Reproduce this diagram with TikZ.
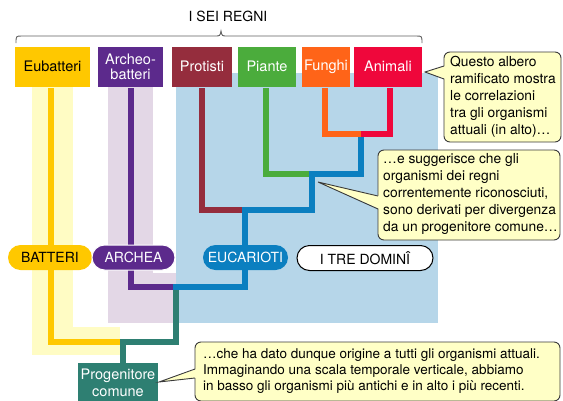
\documentclass[tikz,border=0pt]{standalone}
\usepackage{fontspec}
\setmainfont{TeX Gyre Heros}
\definecolor{cEub}{HTML}{FFC800}
\definecolor{cEubBg}{HTML}{FFFCC4}
\definecolor{cArc}{HTML}{5C2A8C}
\definecolor{cArcBg}{HTML}{E3D7E6}
\definecolor{cPro}{HTML}{952D3D}
\definecolor{cPia}{HTML}{4BAC3C}
\definecolor{cFun}{HTML}{FF6418}
\definecolor{cAni}{HTML}{EF073B}
\definecolor{cEuc}{HTML}{0B7FC0}
\definecolor{cEucBg}{HTML}{B6D6E9}
\definecolor{cTeal}{HTML}{2E7F72}
\definecolor{cBub}{HTML}{FFFFC6}
\definecolor{cBorder}{HTML}{3A3A3A}
\begin{document}
\begin{tikzpicture}[x=1pt,y=-1pt,
  topbox/.style={inner sep=0pt,minimum height=40pt,text=white,align=center,
    font=\fontsize{14.5}{15}\selectfont},
  tree/.style={line width=6pt,line join=miter,line cap=butt},
  pill/.style={inner sep=0pt,minimum height=25pt,rounded corners=12.5pt,
    font=\fontsize{14}{15}\selectfont},
  bubble/.style={fill=cBub,draw=cBorder,line width=0.9pt,rounded corners=6pt},
  bubtext/.style={inner sep=0pt,anchor=north west,align=left,
    font=\fontsize{13.8}{17}\selectfont},
  bracestyle/.style={draw=cBorder!80,line width=0.9pt}]
\useasboundingbox (0,0) rectangle (563,400);
% background bands
\fill[cEubBg] (32,87) rectangle (73,355);
\fill[cEubBg] (32,327) rectangle (120,355);
\fill[cArcBg] (108,87) rectangle (153,323);
\fill[cArcBg] (108,273) rectangle (180,323);
\fill[cEucBg] (176,73) rectangle (438,323);
% brace and title
\draw[bracestyle] (16,43) .. controls (16,36) .. (22,36) -- (215,36)
  .. controls (220,36) .. (221,31) .. controls (222,36) .. (227,36)
  -- (416,36) .. controls (422,36) .. (422,43);
\node[font=\fontsize{14}{15}\selectfont,inner sep=0pt] (title) at (228,16) {I SEI REGNI};
% kingdoms
\node[topbox,fill=cEub,text=black,minimum width=75pt] (eub) at (52.5,66.5) {Eubatteri};
\node[topbox,fill=cArc,minimum width=65pt] (arc) at (130.5,66.5) {Archeo-\\batteri};
\node[topbox,fill=cPro,minimum width=60pt] (pro) at (202,66.5) {Protisti};
\node[topbox,fill=cPia,minimum width=58pt] (pia) at (267,66.5) {Piante};
\node[topbox,fill=cFun,minimum width=48pt] (fun) at (326,66.5) {Funghi};
\node[topbox,fill=cAni,minimum width=68pt] (ani) at (388,66.5) {Animali};
% tree
\draw[tree,cEuc] (361,134) |- (312,174) -- (312,209.5) -- (245,209.5) -- (245,287) -- (173,287);
\draw[tree,cFun] (325,88) |- (361,133.5);
\draw[tree,cAni] (390,88) |- (361,133.5);
\draw[tree,cPia] (266,88) |- (309,174);
\draw[tree,cPro] (202,88) |- (242,209.5);
\draw[tree,cArc] (131,88) |- (173,287);
\draw[tree,cEub] (51,88) |- (120,342);
\draw[tree,cTeal] (176,290) |- (123,342) -- (123,363);
% domains
\node[pill,fill=cEub,minimum width=84pt] (bat) at (50,257.5) {BATTERI};
\node[pill,fill=cArc,text=white,draw=white,line width=1pt,minimum width=83pt] (arch) at (133.5,257.5) {ARCHEA};
\node[pill,fill=cEuc,text=white,minimum width=85pt] (euc) at (245.5,257.5) {EUCARIOTI};
\node[pill,fill=white,draw=black,line width=1pt,minimum width=136pt] (dom) at (365,258) {I TRE DOMINÎ};
% common ancestor
\node[fill=cTeal,text=white,inner sep=0pt,minimum width=80pt,minimum height=40pt,align=center,
  font=\fontsize{14.5}{17}\selectfont] (prog) at (118,383) {Progenitore\\comune};
% callouts
\draw[bubble] (444,52) rectangle (561,142);
\fill[cBub] (425,72) -- (445.5,66) -- (445.5,79) -- cycle;
\draw[draw=cBorder,line width=0.9pt,line join=miter] (444,66) -- (425,72) -- (444,79);
\node[bubtext] (t1) at (450,56) {Questo albero\\ramificato mostra\\le correlazioni\\tra gli organismi\\attuali (in alto)…};
\draw[bubble] (378,150) rectangle (560,240);
\fill[cBub] (318,182) -- (379.5,196) -- (379.5,209) -- cycle;
\draw[draw=cBorder,line width=0.9pt,line join=miter] (378,196) -- (318,182) -- (378,209);
\node[bubtext] (t2) at (383,153) {…e suggerisce che gli\\organismi dei regni\\correntemente riconosciuti,\\sono derivati per divergenza\\da un progenitore comune…};
\draw[bubble] (195,342) rectangle (560,401);
\fill[cBub] (159,382) -- (196.5,369) -- (196.5,378) -- cycle;
\draw[draw=cBorder,line width=0.9pt,line join=miter] (195,369) -- (159,382) -- (195,378);
\node[bubtext,font=\fontsize{13.5}{16}\selectfont] (t3) at (203,348) {…che ha dato dunque origine a tutti gli organismi attuali.\\Immaginando una scala temporale verticale, abbiamo\\in basso gli organismi più antichi e in alto i più recenti.};
\end{tikzpicture}
\end{document}
